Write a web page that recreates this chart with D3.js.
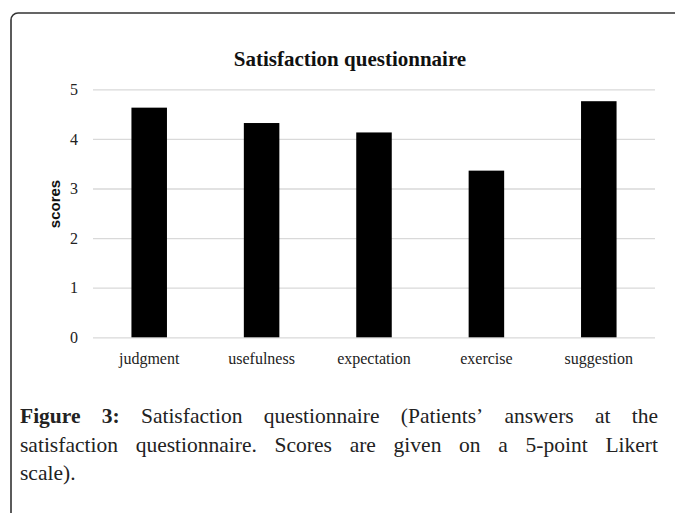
<!DOCTYPE html>
<html>
<head>
<meta charset="utf-8">
<script src="https://cdn.jsdelivr.net/npm/d3@7"></script>
<style>
  body { margin: 0; background: #fff; }
  svg { display: block; }
</style>
</head>
<body>
<div id="display"></div>
<script>
const w = 675;
const h = 513;

// chart data
const categories = ['judgment', 'usefulness', 'expectation', 'exercise', 'suggestion'];
const scores = [4.63, 4.32, 4.13, 3.36, 4.76];
const yTicks = [0, 1, 2, 3, 4, 5];
const title = 'Satisfaction questionnaire';
const yLabel = 'scores';
const captionLines = [
    [{ t: 'Figure', b: true }, { t: '3:', b: true }, 'Satisfaction', 'questionnaire', '(Patients’', 'answers', 'at', 'the'],
    ['satisfaction', 'questionnaire.', 'Scores', 'are', 'given', 'on', 'a', '5-point', 'Likert'],
    ['scale).']
];

const plot = { left: 93, right: 655, top: 89.3, bottom: 337.3 };
const serif = "'Liberation Serif', 'Times New Roman', serif";

const svg = d3.select('#display').append('svg')
    .attr('width', w)
    .attr('height', h);

// frame round the figure
svg.append('rect')
    .attr('x', 11)
    .attr('y', 13)
    .attr('width', 720)
    .attr('height', 600)
    .attr('rx', 7)
    .style('fill', 'none')
    .style('stroke', '#333')
    .style('stroke-width', 1.6);

const xScale = d3.scaleBand()
    .domain(categories)
    .range([plot.left, plot.right])
    .paddingInner(0.684)
    .paddingOuter(0.342);

const yScale = d3.scaleLinear()
    .domain([0, 5])
    .range([plot.bottom, plot.top]);

// gridlines
const yAxisGroup = svg.append('g')
    .attr('class', 'yaxisgroup')
    .attr('transform', `translate(${plot.left},0)`)
    .call(d3.axisLeft(yScale).tickValues(yTicks).tickSize(-(plot.right - plot.left)).tickFormat(d3.format('d')));
yAxisGroup.select('.domain').remove();
yAxisGroup.selectAll('.tick line')
    .style('stroke', '#d9d9d9')
    .style('stroke-width', 1.3);
yAxisGroup.selectAll('.tick text')
    .style('font-family', serif)
    .style('font-size', '16px')
    .style('fill', '#222')
    .attr('text-anchor', 'middle')
    .attr('x', -19);

svg.append('g')
    .selectAll('rect')
    .data(scores)
    .enter()
    .append('rect')
    .attr('x', (d, i) => xScale(categories[i]))
    .attr('y', (d) => yScale(d))
    .attr('width', xScale.bandwidth())
    .attr('height', (d) => yScale(0) - yScale(d))
    .style('fill', '#000');

const xAxisGroup = svg.append('g')
    .attr('class', 'xaxisgroup')
    .attr('transform', `translate(0,${plot.bottom})`)
    .call(d3.axisBottom(xScale).tickSize(0).tickPadding(15));
xAxisGroup.select('.domain').remove();
xAxisGroup.selectAll('.tick text')
    .style('font-family', serif)
    .style('font-size', '16px')
    .style('fill', '#222');

svg.append('text')
    .attr('x', 350)
    .attr('y', 66)
    .attr('text-anchor', 'middle')
    .style('font-family', serif)
    .style('font-weight', 'bold')
    .style('font-size', '21px')
    .style('fill', '#111')
    .text(title);

svg.append('text')
    .attr('transform', `translate(60,204) rotate(-90)`)
    .attr('text-anchor', 'middle')
    .style('font-family', "'Liberation Sans', Arial, sans-serif")
    .style('font-weight', 'bold')
    .style('font-size', '15px')
    .style('fill', '#111')
    .text(yLabel);

// caption, justified by hand
const capLeft = 20;
const capRight = 658;
const capBase = [423, 452, 480];
const caption = svg.append('g').attr('class', 'caption');

captionLines.forEach((line, li) => {
    const words = line.map((it) => typeof it === 'string' ? { t: it, b: false } : it);
    const nodes = words.map((wd) => caption.append('text')
        .attr('y', capBase[li])
        .style('font-family', serif)
        .style('font-size', '21.5px')
        .style('font-weight', wd.b ? 'bold' : 'normal')
        .style('fill', '#222')
        .text(wd.t));
    const widths = nodes.map((n) => n.node().getComputedTextLength());
    const total = d3.sum(widths);
    const last = li === captionLines.length - 1;
    const gap = last || words.length < 2 ? 5 : (capRight - capLeft - total) / (words.length - 1);
    let x = capLeft;
    nodes.forEach((n, i) => {
        n.attr('x', x);
        x += widths[i] + gap;
    });
});
</script>
</body>
</html>
